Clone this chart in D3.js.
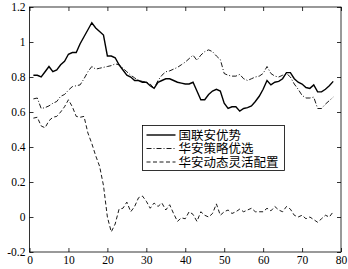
<!DOCTYPE html>
<html>
<head>
<meta charset="utf-8">
<script src="https://cdn.jsdelivr.net/npm/d3@7"></script>
<style>
    body { margin: 0; background: #fff; }
    svg { display: block; }
    .tick text { font-family: "Liberation Serif", "DejaVu Serif", serif; }
</style>
</head>
<body>
<div class="graph-container"></div>
<script>
// series names
const seriesNames = ['国联安优势', '华安策略优选', '华安动态灵活配置'];
// x values 1..78
const xValues = [
    1, 2, 3, 4, 5, 6, 7, 8, 9, 10, 11, 12, 13, 14, 15, 16, 17, 18, 19, 20,
    21, 22, 23, 24, 25, 26, 27, 28, 29, 30, 31, 32, 33, 34, 35, 36, 37, 38, 39, 40,
    41, 42, 43, 44, 45, 46, 47, 48, 49, 50, 51, 52, 53, 54, 55, 56, 57, 58, 59, 60,
    61, 62, 63, 64, 65, 66, 67, 68, 69, 70, 71, 72, 73, 74, 75, 76, 77, 78
];
const guolianan = [
    0.81, 0.81, 0.80, 0.83, 0.86, 0.83, 0.84, 0.87, 0.89, 0.93, 0.94, 0.94, 0.99, 1.03, 1.07, 1.11, 1.08, 1.06, 1.04, 0.92,
    0.92, 0.91, 0.87, 0.84, 0.81, 0.80, 0.78, 0.78, 0.77, 0.77, 0.75, 0.735, 0.77, 0.78, 0.79, 0.79, 0.78, 0.77, 0.765, 0.76,
    0.76, 0.77, 0.72, 0.67, 0.67, 0.70, 0.72, 0.73, 0.72, 0.65, 0.62, 0.63, 0.63, 0.605, 0.62, 0.625, 0.635, 0.66, 0.69, 0.73,
    0.78, 0.755, 0.77, 0.775, 0.79, 0.825, 0.825, 0.79, 0.77, 0.76, 0.74, 0.735, 0.755, 0.715, 0.715, 0.73, 0.75, 0.775
];
const huaanCelue = [
    0.675, 0.68, 0.62, 0.625, 0.635, 0.65, 0.66, 0.69, 0.70, 0.725, 0.745, 0.75, 0.755, 0.79, 0.83, 0.86, 0.845, 0.85, 0.855, 0.86,
    0.865, 0.875, 0.87, 0.85, 0.83, 0.81, 0.795, 0.78, 0.775, 0.77, 0.76, 0.735, 0.78, 0.81, 0.83, 0.835, 0.845, 0.855, 0.87, 0.885,
    0.905, 0.925, 0.895, 0.925, 0.945, 0.955, 0.945, 0.92, 0.90, 0.82, 0.81, 0.805, 0.805, 0.815, 0.79, 0.78, 0.79, 0.80, 0.805, 0.82,
    0.86, 0.82, 0.805, 0.80, 0.81, 0.82, 0.80, 0.76, 0.73, 0.695, 0.68, 0.68, 0.685, 0.62, 0.62, 0.645, 0.665, 0.685
];
const huaanDongtai = [
    0.565, 0.57, 0.52, 0.51, 0.55, 0.57, 0.575, 0.60, 0.63, 0.67, 0.63, 0.575, 0.57, 0.575, 0.48, 0.42, 0.35, 0.29, 0.18, 0.0,
    -0.085, -0.04, 0.045, 0.05, 0.085, 0.03, 0.06, 0.11, 0.12, 0.09, 0.05, 0.08, 0.06, 0.08, 0.04, 0.07, 0.02, -0.025, -0.005, -0.01,
    0.03, 0.015, -0.025, 0.03, 0.01, 0.0, 0.02, 0.075, 0.01, 0.03, 0.04, 0.02, 0.03, 0.045, 0.03, 0.04, 0.05, 0.03, 0.03, 0.03,
    0.05, 0.035, 0.06, 0.04, 0.03, 0.06, 0.045, 0.01, 0.0, 0.01, -0.01, 0.0, -0.015, -0.03, -0.01, 0.01, 0.0, 0.03
];
// tick values
const xTicks = [0, 10, 20, 30, 40, 50, 60, 70, 80];
const yTicks = [-0.2, 0, 0.2, 0.4, 0.6, 0.8, 1, 1.2];

// graph constants
const w = 348;
const h = 269;
const padLeft = 29.5;
const padRight = 341;
const padTop = 7;
const padBottom = 252;
const tickLen = 4;

const svgChart = d3.select('.graph-container')
    .append('svg')
    .attr('width', w)
    .attr('height', h);

const xScale = d3.scaleLinear().domain([0, 80]).range([padLeft, padRight]);
const yScale = d3.scaleLinear().domain([-0.2, 1.2]).range([padBottom, padTop]);

const fmt = d => (d < 0 ? '-' : '') + d3.format('~g')(Math.abs(+d.toFixed(1)));

// axes with inward ticks (bottom/left labelled, top/right bare)
const axisFont = '"Liberation Serif", "DejaVu Serif", serif';
svgChart.append('g')
    .attr('transform', `translate(0, ${padBottom})`)
    .call(d3.axisBottom(xScale).tickValues(xTicks).tickSizeInner(-tickLen).tickSizeOuter(0).tickPadding(4).tickFormat(d3.format('d')))
    .attr('font-family', axisFont)
    .attr('font-size', 11.5);
svgChart.append('g')
    .attr('transform', `translate(${padLeft}, 0)`)
    .call(d3.axisLeft(yScale).tickValues(yTicks).tickSizeInner(-tickLen).tickSizeOuter(0).tickPadding(4).tickFormat(fmt))
    .attr('font-family', axisFont)
    .attr('font-size', 11.5);
svgChart.append('g')
    .attr('transform', `translate(0, ${padTop})`)
    .call(d3.axisTop(xScale).tickValues(xTicks).tickSizeInner(-tickLen).tickSizeOuter(0).tickFormat(''));
svgChart.append('g')
    .attr('transform', `translate(${padRight}, 0)`)
    .call(d3.axisRight(yScale).tickValues(yTicks).tickSizeInner(-tickLen).tickSizeOuter(0).tickFormat(''));

svgChart.selectAll('.domain').remove();
svgChart.selectAll('.tick line').attr('stroke', '#000').attr('stroke-width', 0.8);
svgChart.selectAll('.tick text').attr('fill', '#000');

// frame
svgChart.append('rect')
    .attr('x', padLeft)
    .attr('y', padTop)
    .attr('width', padRight - padLeft)
    .attr('height', padBottom - padTop)
    .attr('fill', 'none')
    .attr('stroke', '#000')
    .attr('stroke-width', 0.8);

// lines
const styles = [
    { data: guolianan, width: 1.4, dash: null },
    { data: huaanCelue, width: 0.9, dash: '5,2,1,2' },
    { data: huaanDongtai, width: 0.9, dash: '4,2.5' }
];
const line = d3.line()
    .x((d, i) => xScale(xValues[i]))
    .y(d => yScale(d));

styles.forEach(s => {
    svgChart.append('path')
        .datum(s.data)
        .attr('d', line)
        .attr('fill', 'none')
        .attr('stroke', '#000')
        .attr('stroke-width', s.width)
        .attr('stroke-dasharray', s.dash);
});

// legend
const lg = svgChart.append('g').attr('transform', 'translate(142.5, 125.5)');
lg.append('rect')
    .attr('width', 142)
    .attr('height', 45)
    .attr('fill', '#fff')
    .attr('stroke', '#000')
    .attr('stroke-width', 0.8);
seriesNames.forEach((name, i) => {
    const y = 9.5 + i * 13.5;
    lg.append('line')
        .attr('x1', 4)
        .attr('x2', 33)
        .attr('y1', y)
        .attr('y2', y)
        .attr('stroke', '#000')
        .attr('stroke-width', styles[i].width)
        .attr('stroke-dasharray', styles[i].dash);
    lg.append('text')
        .attr('x', 36)
        .attr('y', y)
        .attr('dy', '0.36em')
        .attr('font-family', '"Noto Sans CJK SC", sans-serif')
        .attr('font-size', 12.5)
        .attr('fill', '#000')
        .text(name);
});
</script>
</body>
</html>
